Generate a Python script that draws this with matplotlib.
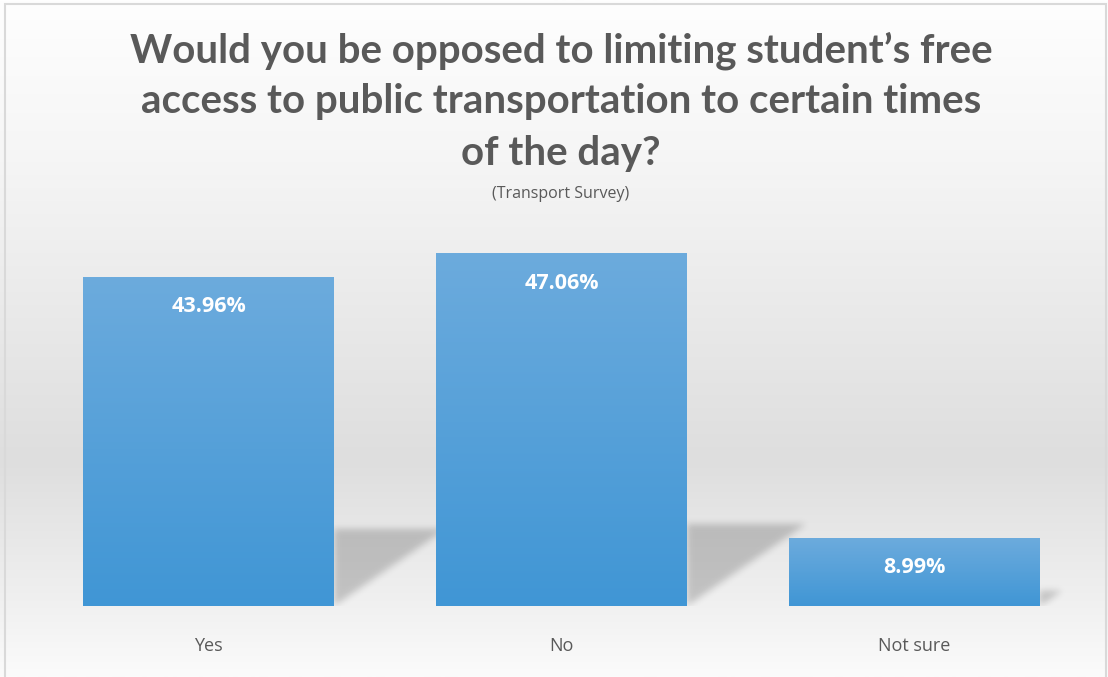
import numpy as np
import matplotlib
matplotlib.use("Agg")
import matplotlib.pyplot as plt
from matplotlib.colors import LinearSegmentedColormap

# ===== DATA =====
categories = ["Yes", "No", "Not sure"]
values = [43.96, 47.06, 8.99]
value_labels = ["43.96%", "47.06%", "8.99%"]
title_lines = ["Would you be opposed to limiting student\u2019s free",
               "access to public transportation to certain times",
               "of the day?"]
subtitle = "(Transport Survey)"

# ===== STYLE =====
W, H, DPI = 1108, 677, 100
text_grey = "#595959"
bar_top, bar_bottom = "#6cabdd", "#4096d5"
bar_width = 0.711
ymax = 50

fig = plt.figure(figsize=(W / DPI, H / DPI), dpi=DPI)

# background gradient (whole chart area)
bg = fig.add_axes([0, 0, 1, 1], zorder=-10)
bg_cmap = LinearSegmentedColormap.from_list(
    "bg", [(0.0, "#fefefe"), (0.22, "#f6f6f6"), (0.68, "#dedede"),
           (0.89, "#f0f0f0"), (1.0, "#fbfbfb")])
bg.imshow(np.linspace(0, 1, 256).reshape(-1, 1), aspect="auto", cmap=bg_cmap,
          extent=(0, 1, 0, 1), origin="upper")
bg.plot([4.5 / W, 4.5 / W, 1105.5 / W, 1105.5 / W], [0, 1 - 3.5 / H, 1 - 3.5 / H, 0],
        color="#d9d9d9", lw=1.5, solid_joinstyle="miter")
bg.set_xlim(0, 1)
bg.set_ylim(0, 1)
bg.axis("off")

# plot area
left, right = 32 / W, 1091 / W
bottom, top = (H - 606) / H, (H - 232) / H
ax = fig.add_axes([left, bottom, right - left, top - bottom])
ax.patch.set_alpha(0)
x = np.arange(len(categories))

bars = ax.bar(x, values, width=bar_width, color="none", zorder=3)

# bar gradients
bar_cmap = LinearSegmentedColormap.from_list("bar", [bar_bottom, bar_top])
grad = np.linspace(0, 1, 128).reshape(-1, 1)
for b in bars:
    x0, y0 = b.get_x(), b.get_y()
    ax.imshow(grad, aspect="auto", cmap=bar_cmap, origin="lower",
              extent=(x0, x0 + b.get_width(), y0, y0 + b.get_height()), zorder=3)

# soft perspective shadow behind each bar
px_x = (right - left) * W / 3.0      # pixels per category unit
px_y = (top - bottom) * H / ymax     # pixels per percent


def blur(a, sigma):
    r = int(3 * sigma)
    k = np.exp(-0.5 * (np.arange(-r, r + 1) / sigma) ** 2)
    k /= k.sum()
    a = np.apply_along_axis(lambda m: np.convolve(m, k, mode="same"), 0, a)
    a = np.apply_along_axis(lambda m: np.convolve(m, k, mode="same"), 1, a)
    return a


for b, v in zip(bars, values):
    xr = b.get_x() + b.get_width()
    h_px = v * px_y
    sh_top = 0.235 * v
    sh_w = 0.34 * h_px / px_x
    pad = 14
    xa = np.arange(-pad, sh_w * px_x + pad) / px_x + xr
    ya = np.arange(-pad, sh_top * px_y + pad) / px_y
    XX, YY = np.meshgrid(xa, ya)
    mask = ((XX >= xr) & (YY <= sh_top) & (YY >= 0)
            & ((XX - xr) / sh_w <= YY / sh_top)).astype(float)
    mask = blur(mask, 3.5)
    img = np.zeros(mask.shape + (4,))
    img[..., 3] = mask * 0.19
    ax.imshow(img, origin="lower", aspect="auto", zorder=2,
              extent=(xa[0], xa[-1], ya[0], ya[-1]), interpolation="bilinear")

ax.set_xlim(-0.5, len(categories) - 0.5)
ax.set_ylim(0, ymax)

# value labels
for b, lab in zip(bars, value_labels):
    ax.annotate(lab, (b.get_x() + b.get_width() / 2, b.get_height()),
                xytext=(0, -21), textcoords="offset points", ha="center", va="center",
                color="white", fontsize=15.5, fontweight="bold", family="Open Sans", zorder=5)

ax.set_xticks(x, categories)
ax.tick_params(axis="x", length=0, pad=22, labelsize=13, labelcolor=text_grey)
for t in ax.get_xticklabels():
    t.set_family("Open Sans")
ax.set_yticks([])
for s in ax.spines.values():
    s.set_visible(False)

# titles
tx = 561 / W
for line, base in zip(title_lines, [62, 113, 165]):
    fig.text(tx, 1 - base / H, line, ha="center", va="baseline", fontsize=29,
             fontweight="bold", family="Lato", color=text_grey)
fig.text(tx, 1 - 194 / H, subtitle, ha="center", va="center", fontsize=11.5,
         family="Open Sans", color=text_grey)

fig.savefig("out.png", dpi=DPI)
